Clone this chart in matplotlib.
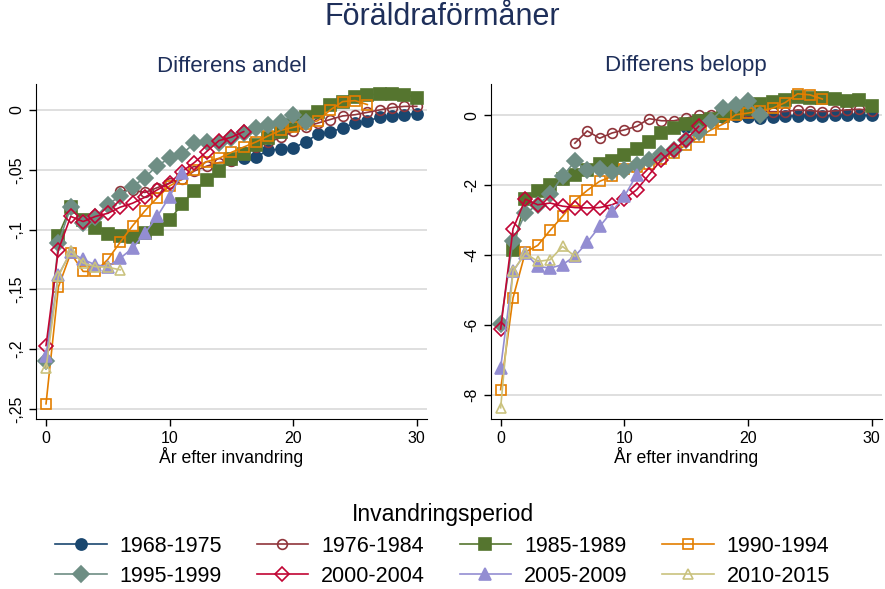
import matplotlib
matplotlib.use("Agg")
import matplotlib.pyplot as plt
from matplotlib.ticker import FixedLocator

plt.rcParams['font.family'] = ['Liberation Sans', 'DejaVu Sans']

periods = ['1968-1975', '1976-1984', '1985-1989', '1990-1994',
           '1995-1999', '2000-2004', '2005-2009', '2010-2015']
first_year = [15, 6, 1, 0, 0, 0, 0, 0]

# Differens andel
andel_1968 = [-0.042, -0.040, -0.0396, -0.0334, -0.0329, -0.0321, -0.0265, -0.0204,
              -0.0187, -0.0148, -0.0111, -0.0092, -0.0061, -0.0047, -0.0039, -0.0033]
andel_1976 = [-0.068, -0.067, -0.069, -0.065, -0.061, -0.058, -0.051, -0.047, -0.044,
              -0.043, -0.035, -0.031, -0.027, -0.023, -0.018, -0.014, -0.011, -0.008,
              -0.005, -0.004, -0.002, 0.000, 0.002, 0.003, 0.003]
andel_1985 = [-0.105, -0.081, -0.092, -0.099, -0.1036, -0.105, -0.106, -0.103, -0.0994,
              -0.092, -0.0788, -0.0674, -0.0585, -0.0507, -0.0412, -0.0365, -0.0293,
              -0.0237, -0.0181, -0.0125, -0.0061, -0.0014, 0.0042, 0.007, 0.0106, 0.0125,
              0.0132, 0.0134, 0.0127, 0.0104]
andel_1990 = [-0.2457, -0.148, -0.1198, -0.135, -0.135, -0.125, -0.1106, -0.0969, -0.0844,
              -0.0733, -0.0635, -0.058, -0.0501, -0.0432, -0.0404, -0.0355, -0.031, -0.0267,
              -0.0216, -0.017, -0.0146, -0.012, -0.009, 0.0, 0.007, 0.0078, 0.0045]
andel_1995 = [-0.2103, -0.1114, -0.0813, -0.0947, -0.0891, -0.0794, -0.0716, -0.0641,
              -0.0565, -0.0465, -0.0404, -0.0368, -0.0279, -0.0268, -0.0279, -0.0231,
              -0.019, -0.0153, -0.0122, -0.0097, -0.0045, -0.0103]
andel_2000 = [-0.197, -0.117, -0.089, -0.0933, -0.089, -0.0864, -0.0813, -0.078, -0.073,
              -0.0668, -0.0613, -0.0515, -0.044, -0.0348, -0.0256, -0.0228, -0.0181]
andel_2005 = [-0.206, -0.138, -0.119, -0.125, -0.1295, -0.131, -0.124, -0.1156, -0.103,
              -0.089, -0.0724, -0.0529]
andel_2010 = [-0.216, -0.139, -0.118, -0.128, -0.131, -0.1315, -0.1337]

# Differens belopp
belopp_1968 = [-0.35, -0.2, -0.1, -0.05, -0.03, -0.04, -0.08, -0.04, -0.03, -0.02, -0.01,
               -0.02, -0.01, -0.01, -0.01, -0.01]
belopp_1976 = [-0.80, -0.45, -0.66, -0.51, -0.42, -0.32, -0.10, -0.16, -0.16, -0.09, 0.01,
               0.01, 0.0, 0.05, 0.08, 0.1, 0.1, 0.1, 0.15, 0.13, 0.1, 0.12, 0.15, 0.17, 0.13]
belopp_1985 = [-3.84, -2.4, -2.18, -1.99, -1.83, -1.72, -1.56, -1.40, -1.30, -1.13, -0.96,
               -0.78, -0.51, -0.37, -0.26, -0.16, -0.11, -0.02, 0.06, 0.17, 0.32, 0.37,
               0.44, 0.52, 0.49, 0.5, 0.46, 0.41, 0.43, 0.25]
belopp_1990 = [-7.84, -5.22, -3.91, -3.72, -3.29, -2.89, -2.44, -2.15, -1.89, -1.75, -1.54,
               -1.47, -1.39, -1.26, -1.07, -0.85, -0.63, -0.42, -0.25, 0.01, 0.06, 0.12,
               0.2, 0.36, 0.61, 0.58, 0.46]
belopp_1995 = [-5.97, -3.59, -2.80, -2.56, -2.26, -1.75, -1.32, -1.58, -1.54, -1.61, -1.58,
               -1.42, -1.29, -1.10, -1.0, -0.70, -0.47, -0.16, 0.2, 0.3, 0.39, 0.01]
belopp_2000 = [-6.11, -3.25, -2.4, -2.56, -2.51, -2.6, -2.64, -2.65, -2.64, -2.56, -2.4,
               -2.13, -1.7, -1.27, -0.99, -0.7, -0.32]
belopp_2005 = [-7.22, -4.46, -3.94, -4.32, -4.37, -4.27, -4.03, -3.63, -3.18, -2.75, -2.32,
               -1.70]
belopp_2010 = [-8.36, -4.46, -3.94, -4.18, -4.13, -3.75, -4.03]

andel = [andel_1968, andel_1976, andel_1985, andel_1990,
         andel_1995, andel_2000, andel_2005, andel_2010]
belopp = [belopp_1968, belopp_1976, belopp_1985, belopp_1990,
          belopp_1995, belopp_2000, belopp_2005, belopp_2010]

colors = ['#1a476f', '#90353b', '#55752f', '#e37e00',
          '#6e8e84', '#c10534', '#938dd2', '#cac27e']
markers = ['o', 'o', 's', 's', 'D', 'D', '^', '^']
filled = [True, False, True, False, True, False, True, False]
msizes = [8, 7, 8, 7.5, 8, 7.5, 8, 7.5]

title_color = '#1e2f5a'

fig = plt.figure(figsize=(8.85, 5.89), dpi=100)
ax1 = fig.add_axes([0.0407, 0.2886, 0.4418, 0.5688])
ax2 = fig.add_axes([0.5548, 0.2886, 0.4415, 0.5688])


def draw(ax, data):
    handles = []
    for i, vals in enumerate(data):
        yrs = list(range(first_year[i], first_year[i] + len(vals)))
        h, = ax.plot(yrs, vals, color=colors[i], marker=markers[i], markersize=msizes[i],
                     markerfacecolor=colors[i] if filled[i] else 'none',
                     markeredgecolor=colors[i], markeredgewidth=1.2,
                     linewidth=1.2, zorder=3 + i, label=periods[i])
        handles.append(h)
    ax.spines['top'].set_visible(False)
    ax.spines['right'].set_visible(False)
    ax.grid(axis='y', color='#d9d9d9', linewidth=1.2)
    ax.set_axisbelow(True)
    ax.set_xticks([0, 10, 20, 30])
    ax.tick_params(axis='both', labelsize=11.5, length=5, width=1, direction='out')
    return handles


handles = draw(ax1, andel)
ax1.set_xlim(-0.81, 30.83)
ax1.set_ylim(-0.2584, 0.0217)
yt1 = [0, -0.05, -0.1, -0.15, -0.2, -0.25]
ax1.yaxis.set_major_locator(FixedLocator(yt1))
ax1.set_yticklabels(['0', '-,05', '-,1', '-,15', '-,2', '-,25'], rotation=90, va='center')

draw(ax2, belopp)
ax2.set_xlim(-0.78, 30.8)
ax2.set_ylim(-8.68, 0.89)
yt2 = [0, -2, -4, -6, -8]
ax2.yaxis.set_major_locator(FixedLocator(yt2))
ax2.set_yticklabels(['0', '-2', '-4', '-6', '-8'], rotation=90, va='center')

fig.text(0.5, 1 - 17 / 589, 'Föräldraförmåner', ha='center', va='center',
         fontsize=22, color=title_color)
fig.text(0.0407 + 0.4418 / 2, 1 - 66 / 589, 'Differens andel', ha='center', va='center',
         fontsize=16, color=title_color)
fig.text(0.5548 + 0.4415 / 2, 1 - 66 / 589, 'Differens belopp', ha='center', va='center',
         fontsize=16, color=title_color)
fig.text(0.0407 + 0.4418 / 2, 1 - 457 / 589, 'År efter invandring', ha='center',
         va='center', fontsize=12.7)
fig.text(0.5548 + 0.4415 / 2, 1 - 457 / 589, 'År efter invandring', ha='center',
         va='center', fontsize=12.7)

# legend: 2 rows x 4 cols, filled column-wise so reorder
order = [0, 4, 1, 5, 2, 6, 3, 7]
leg = fig.legend([handles[k] for k in order], [periods[k] for k in order],
                 loc='upper center', bbox_to_anchor=(0.5, 1 - 488 / 589), ncol=4,
                 frameon=False, fontsize=15.5, title='Invandringsperiod',
                 title_fontsize=16.5, handlelength=2.4, handletextpad=0.6,
                 columnspacing=1.6, labelspacing=0.44, borderpad=0.2)

fig.savefig('out.png', dpi=100, facecolor='white')
